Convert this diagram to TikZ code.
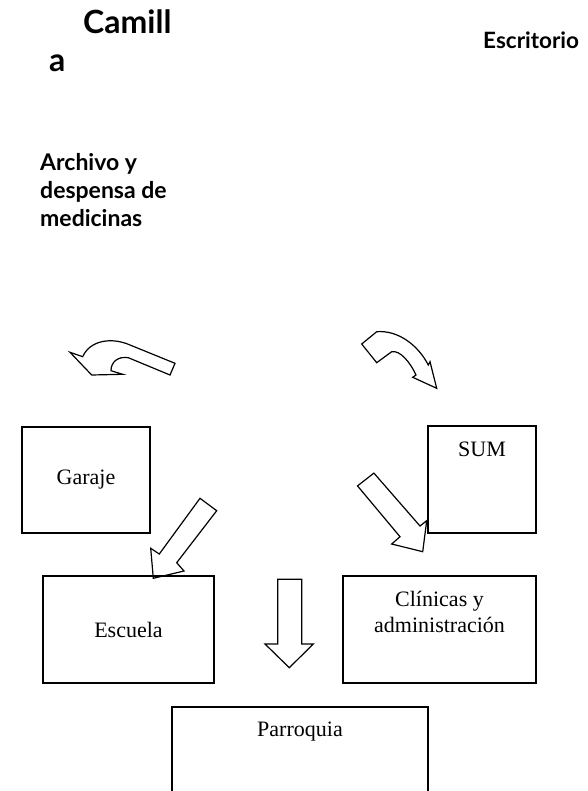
\documentclass[tikz,border=0pt]{standalone}
\usepackage{fontspec}
\setmainfont{Liberation Serif}
\newfontfamily\planfont{Lato}
\usetikzlibrary{positioning}
\newcommand{\roomfont}{\fontsize{22}{26}\selectfont}
\newcommand{\areafont}{\planfont\bfseries\fontsize{23}{28}\selectfont}
\newcommand{\bigareafont}{\planfont\bfseries\fontsize{32}{36}\selectfont}

\begin{document}
\begin{tikzpicture}[x=1pt,y=-1pt,
    room/.style={draw, line width=1.2pt, inner sep=0pt, font=\roomfont},
    roomname/.style={inner sep=0pt, align=center, font=\roomfont},
    area/.style={inner sep=0pt, anchor=base west, align=left, font=\areafont},
    flow/.style={draw, line width=1.2pt, line join=miter}]
    \useasboundingbox (0,0) rectangle (587,791);
    \clip (0,0) rectangle (587,791);

    \node[area, font=\bigareafont] (camill)  at (83,34)   {Camill};
    \node[area, font=\bigareafont] (camilla) at (49,72)   {a};
    \node[area, font=\planfont\bfseries\fontsize{22.5}{28}\selectfont] (escritorio) at (483,48.5) {Escritorio};
    \node[area, anchor=north west] (archivo) at (40,153) {Archivo y\\despensa de\\medicinas};

    \node[room, minimum width=128pt, minimum height=106pt] (garaje)    at (86,480)      {Garaje};
    \node[room, minimum width=108pt, minimum height=107pt] (sum)       at (482,479.5)   {};
    \node[roomname, below=16pt of sum.north] (sumname) {SUM};
    \node[room, minimum width=171pt, minimum height=107pt] (escuela)   at (128.5,629.5) {Escuela};
    \node[room, minimum width=193pt, minimum height=107pt] (clinicas)  at (439.5,629.5) {};
    \node[roomname, below=16pt of clinicas.north] (clinicasname) {Clínicas y\\administración};
    \node[room, minimum width=256pt, minimum height=120pt] (parroquia) at (300,767)     {};
    \node[roomname, below=15pt of parroquia.north] (parroquianame) {Parroquia};

    \draw[flow] (70,352.3) -- (91.7,375) -- (122.7,374.3) -- (111,370.7)
        .. controls (111,362) and (118,356) .. (128.3,357.7) -- (170,375) -- (175,363.3) -- (130,345)
        .. controls (112,337) and (90,340) .. (82.7,356.7) -- cycle;
    \draw[flow] (361.7,344) -- (376.7,362.7) -- (391.7,351.7)
        .. controls (400,350) and (410,362) .. (416,375) -- (412.7,377.3) -- (436.7,388.3) -- (430,361.7) -- (428.3,365)
        .. controls (418,345) and (398,330) .. (376.7,331.7) -- cycle;
    \draw[flow] (200,498.3) -- (216.7,510.7) -- (176.7,562.7) -- (184,571) -- (153.3,578.3) -- (150.7,548.3) -- (159.3,554) -- cycle;
    \draw[flow] (373.9,473.1) -- (357.5,485.9) -- (400,536.7) -- (391.7,544) -- (422.7,551.7) -- (426.7,520.7) -- (420,526) -- cycle;
    \draw[flow] (277.7,579.3) -- (301.7,579.3) -- (301.7,644) -- (313.3,644) -- (289.3,667.7) -- (265,644) -- (277.7,644) -- cycle;
\end{tikzpicture}
\end{document}
